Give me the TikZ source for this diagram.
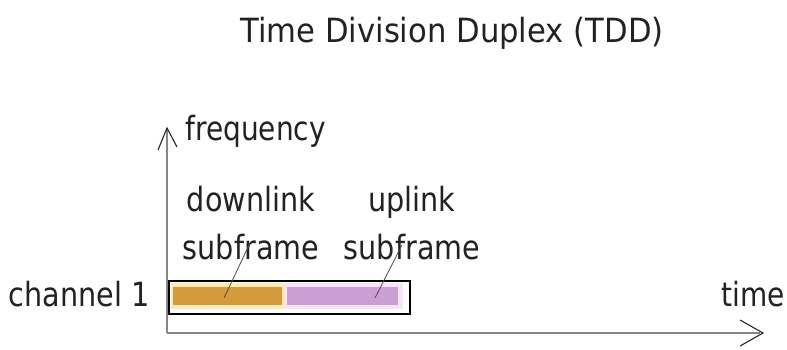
\documentclass[tikz,border=0pt]{standalone}
\usepackage{fontspec}
\setmainfont{DejaVu Sans}
\definecolor{dlfill}{HTML}{D49A3C}
\definecolor{dlhalo}{HTML}{FBEBB8}
\definecolor{ulfill}{HTML}{CC9FD4}
\definecolor{ulhalo}{HTML}{F8E4F6}
\definecolor{axisgray}{HTML}{858585}
\definecolor{ink}{HTML}{222222}
\tikzset{
  lbl/.style={inner sep=0pt, text=ink, font=\fontsize{25}{30}\selectfont},
  axisline/.style={draw=axisgray, line width=2.2pt},
  tipline/.style={draw=ink, line width=0.8pt},
  leader/.style={draw=ink!80, line width=0.6pt},
}
\begin{document}
\begin{tikzpicture}[x=0.75pt, y=-0.75pt]
\useasboundingbox[fill=white] (0,0) rectangle (787,349);

% title
\node[lbl, anchor=base] (title) at (452,43) {\scalebox{0.92}[1]{Time Division Duplex (TDD)}};

% axes
\coordinate (origin) at (167,333);
\coordinate (ytop) at (167,128);
\coordinate (xend) at (763,333);
\draw[axisline] (origin) -- (ytop);
\draw[axisline] (origin) -- (760,333);
\draw[tipline] (158,150) -- (ytop) -- (177,147);
\draw[tipline] (740,320) -- (xend) -- (740,346);

% axis labels
\node[lbl, anchor=base west] (freq) at (185,140) {\scalebox{0.84}[1]{frequency}};
\node[lbl, anchor=base east] (time) at (785,306) {\scalebox{0.84}[1]{time}};
\node[lbl, anchor=base east] (chan) at (150,306) {\scalebox{0.86}[1]{channel 1}};

% the frame on channel 1
\node[draw=black, line width=1.6pt, fill=white, minimum width=241*0.75pt, minimum height=33*0.75pt,
      inner sep=0pt, anchor=north west] (frame) at (168,280) {};
\fill[dlhalo] (171,283) rectangle (285,309);
\fill[ulhalo] (285,283) rectangle (403,309);
\node[fill=dlfill, inner sep=0pt, minimum width=109*0.75pt, minimum height=18*0.75pt, anchor=north west] (dl) at (173,287) {};
\node[fill=ulfill, inner sep=0pt, minimum width=111*0.75pt, minimum height=18*0.75pt, anchor=north west] (ul) at (287,287) {};

% subframe labels
\node[lbl, anchor=base] (dltop) at (251,211) {\scalebox{0.86}[1]{downlink}};
\node[lbl, anchor=base] (dlbot) at (251,259) {\scalebox{0.86}[1]{subframe}};
\node[lbl, anchor=base] (ultop) at (412,211) {\scalebox{0.86}[1]{uplink}};
\node[lbl, anchor=base] (ulbot) at (412,259) {\scalebox{0.86}[1]{subframe}};

% leaders from the labels to the subframes
\coordinate (dlfrom) at (250,243);
\coordinate (dlto) at (224,298);
\coordinate (ulfrom) at (402,245);
\coordinate (ulto) at (375,298);
\draw[leader] (dlfrom) -- (dlto);
\draw[leader] (ulfrom) -- (ulto);
\end{tikzpicture}
\end{document}
